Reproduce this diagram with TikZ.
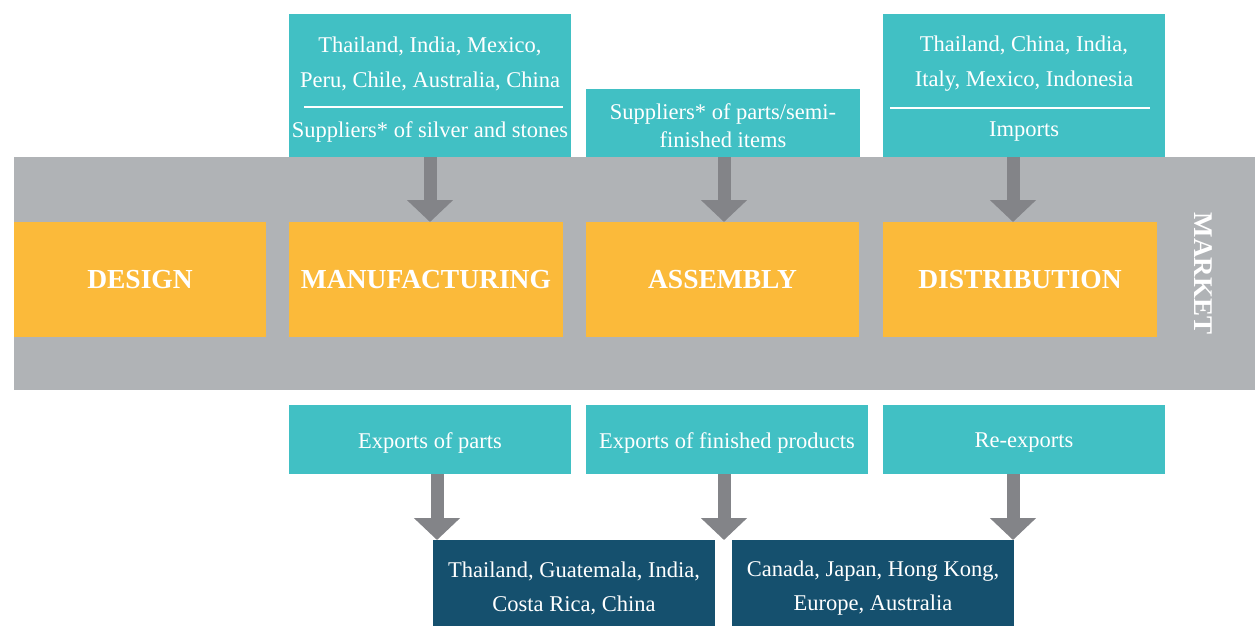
\documentclass[tikz,border=0pt]{standalone}
\usepackage{fontspec}
\setmainfont{Liberation Serif}
\usetikzlibrary{arrows.meta}
\definecolor{teal1}{HTML}{41C0C4}
\definecolor{orange1}{HTML}{FBBA3A}
\definecolor{band}{HTML}{B0B3B6}
\definecolor{arrowgray}{HTML}{838488}
\definecolor{navy1}{HTML}{15506E}
\tikzset{
  box/.style={inner sep=0pt, outer sep=0pt, anchor=center},
  tealbox/.style={box, fill=teal1},
  stagebox/.style={box, fill=orange1, text=white, font=\fontsize{27.5}{32}\selectfont\bfseries},
  navybox/.style={box, fill=navy1},
  txt/.style={inner sep=0pt, text=white, align=center, font=\fontsize{22.5}{35}\selectfont},
  sepline/.style={draw=white, line width=2.5pt},
  bigarrow/.style={draw=arrowgray, line width=13pt, -{Triangle[width=45pt,length=22pt]}}
}
\begin{document}
\begin{tikzpicture}[x=1pt,y=-1pt]
\useasboundingbox (0,0) rectangle (1255,625);
\fill[white] (0,0) rectangle (1255,625);
% band
\node[box, fill=band, minimum width=1241pt, minimum height=233pt] (band) at (634.5,273.5) {};
% stages
\node[stagebox, minimum width=252pt, minimum height=115pt] (design) at (140,279.5) {\raisebox{-1pt}{DESIGN}};
\node[stagebox, minimum width=274pt, minimum height=115pt] (manuf) at (426,279.5) {\raisebox{-1pt}{MANUFACTURING}};
\node[stagebox, minimum width=273pt, minimum height=115pt] (assem) at (722.5,279.5) {\raisebox{-1pt}{ASSEMBLY}};
\node[stagebox, minimum width=274pt, minimum height=115pt] (distr) at (1020,279.5) {\raisebox{-1pt}{DISTRIBUTION}};
\node[inner sep=0pt, text=white, font=\fontsize{27}{30}\selectfont\bfseries, rotate=-90] (market) at (1203,273.5) {MARKET};
% top boxes
\node[tealbox, minimum width=282pt, minimum height=143pt] (t1) at (430,85.5) {};
\node[txt] (t1a) at (430,63.5) {Thailand, India, Mexico,\\Peru, Chile, Australia, China};
\node[txt] (t1b) at (430,132) {Suppliers* of silver and stones};
\draw[sepline] (304,107) -- (563,107);
\node[tealbox, minimum width=274pt, minimum height=68pt] (t2) at (723,123) {};
\node[txt, font=\fontsize{22.5}{28}\selectfont] (t2a) at (723,125.5) {Suppliers* of parts/semi-\\finished items};
\node[tealbox, minimum width=282pt, minimum height=143pt] (t3) at (1024,85.5) {};
\node[txt] (t3a) at (1024,63.5) {Thailand, China, India,\\Italy, Mexico, Indonesia};
\node[txt] (t3b) at (1024,132) {Imports};
\draw[sepline] (890,108) -- (1150,108);
% bottom teal boxes
\node[tealbox, minimum width=282pt, minimum height=69pt] (b1) at (430,439.5) {};
\node[txt] (b1a) at (430,443) {Exports of parts};
\node[tealbox, minimum width=282pt, minimum height=69pt] (b2) at (727,439.5) {};
\node[txt] (b2a) at (727,443) {Exports of finished products};
\node[tealbox, minimum width=282pt, minimum height=69pt] (b3) at (1024,439.5) {};
\node[txt] (b3a) at (1024,443) {Re-exports};
% navy boxes
\node[navybox, minimum width=282pt, minimum height=90pt] (n1) at (574,585) {};
\node[txt, font=\fontsize{22.5}{34}\selectfont] (n1a) at (574,588) {Thailand, Guatemala, India,\\Costa Rica, China};
\node[navybox, minimum width=282pt, minimum height=90pt] (n2) at (873,585) {};
\node[txt, font=\fontsize{22.5}{34}\selectfont] (n2a) at (873,588) {Canada, Japan, Hong Kong,\\Europe, Australia};
% arrows
\coordinate (a1s) at (430,157); \coordinate (a1e) at (430,222);
\coordinate (a2s) at (724,157); \coordinate (a2e) at (724,222);
\coordinate (a3s) at (1013,157); \coordinate (a3e) at (1013,222);
\coordinate (a4s) at (437,474); \coordinate (a4e) at (437,540);
\coordinate (a5s) at (724,474); \coordinate (a5e) at (724,540);
\coordinate (a6s) at (1013,474); \coordinate (a6e) at (1013,540);
\draw[bigarrow] (a1s) -- (a1e);
\draw[bigarrow] (a2s) -- (a2e);
\draw[bigarrow] (a3s) -- (a3e);
\draw[bigarrow] (a4s) -- (a4e);
\draw[bigarrow] (a5s) -- (a5e);
\draw[bigarrow] (a6s) -- (a6e);
\end{tikzpicture}
\end{document}
